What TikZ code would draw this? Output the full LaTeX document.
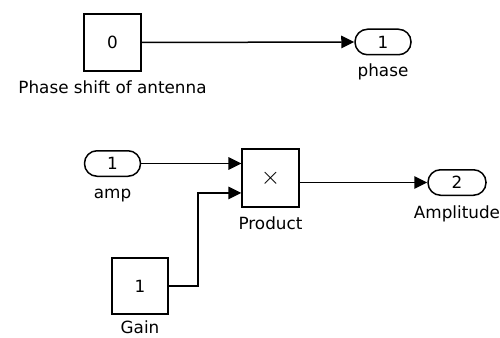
\documentclass[tikz,border=0pt]{standalone}
\usepackage{fontspec}
\setmainfont{DejaVu Sans}
\usetikzlibrary{arrows.meta,positioning,calc}

\begin{document}
\begin{tikzpicture}[
  x=1pt, y=-1pt,
  font=\fontsize{16.8}{20}\selectfont,
  sig/.style={-{Triangle[length=13pt,width=12.5pt]}, line width=1.5pt, draw=black},
  blockbox/.style={draw=black, line width=1.8pt, fill=white, inner sep=0pt,
                   minimum width=57pt, minimum height=57pt},
  port/.style={draw=black, line width=1.5pt, fill=white, inner sep=0pt,
               rounded corners=12.5pt, minimum width=56pt, minimum height=25.5pt},
  lbl/.style={inner sep=0pt, text height=12.5pt, text depth=3.5pt}
]
\useasboundingbox (0,0) rectangle (500,337);

% phase branch
\node[blockbox] (cst) at (112.5,42.5) {0};
\node[lbl, below=8.5pt of cst] (cstlbl) {Phase shift of antenna};
\node[port] (phase) at (383,42) {1};
\node[lbl, below=8.5pt of phase] (phaselbl) {phase};
\draw[sig] (cst.east) -- (phase.west);

% amplitude branch
\node[port] (amp) at (112.5,163.5) {1};
\node[lbl, below=8.5pt of amp] (amplbl) {amp};
\node[blockbox, minimum height=58pt, minimum width=56.5pt] (prod) at (270.5,178)
  {\fontsize{24}{24}\selectfont$\times$};
\node[lbl, below=8.5pt of prod] (prodlbl) {Product};
\node[blockbox, minimum width=56pt, minimum height=56pt] (gain) at (140,286) {1};
\node[lbl, below=6pt of gain] (gainlbl) {Gain};
\node[port, minimum width=58pt] (amplitude) at (457,182.5) {2};
\node[lbl, below=10pt of amplitude] (amplitudelbl) {Amplitude};

\coordinate (in2) at ($(prod.south west)!0.25!(prod.north west)$);
\draw[sig] (amp.east) -- (amp.east -| prod.west);
\draw[sig] (gain.east) -- ++(29,0) |- (in2);
\draw[sig] (prod.east |- amplitude.west) -- (amplitude.west);

\end{tikzpicture}
\end{document}
